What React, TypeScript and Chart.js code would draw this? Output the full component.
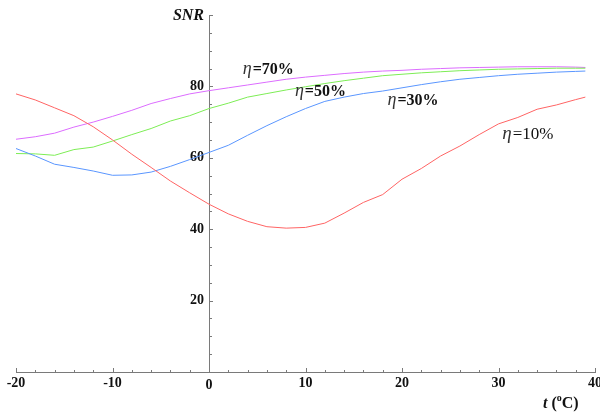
import React, { useEffect, useRef } from "react";
import { Chart, registerables } from "chart.js";

Chart.register(...registerables);

const temps = [-20, -18, -16, -14, -12, -10, -8, -6, -4, -2, 0, 2, 4, 6, 8, 10, 12, 14, 16, 18, 20, 22, 24, 26, 28, 30, 32, 34, 36, 38, 39];

const eta10 = [77.9, 76.2, 74, 71.8, 68.7, 65, 61, 57.3, 53.5, 50.2, 47, 44.3, 42.2, 40.7, 40.3, 40.5, 41.7, 44.5, 47.5, 49.7, 54, 57, 60.5, 63.3, 66.5, 69.5, 71.3, 73.6, 74.8, 76.3, 77];
const eta30 = [62.6, 60.5, 58.2, 57.3, 56.3, 55.1, 55.2, 56, 57.6, 59.5, 61.5, 63.5, 66.3, 69, 71.5, 73.8, 75.8, 77, 78, 78.7, 79.6, 80.5, 81.3, 82, 82.5, 83, 83.4, 83.7, 84, 84.2, 84.3];
const eta50 = [61.2, 61.1, 60.7, 62.3, 63, 64.7, 66.5, 68.2, 70.3, 71.8, 73.8, 75.3, 77, 78, 79, 79.9, 80.8, 81.6, 82.3, 83, 83.4, 83.8, 84.1, 84.4, 84.6, 84.8, 84.9, 85, 85.1, 85.1, 85.1];
const eta70 = [65.2, 65.9, 66.9, 68.6, 70, 71.6, 73.3, 75.2, 76.6, 77.9, 78.8, 79.6, 80.4, 81.2, 82, 82.6, 83.1, 83.6, 84, 84.3, 84.5, 84.8, 85, 85.2, 85.3, 85.4, 85.5, 85.5, 85.5, 85.4, 85.3];

const xTickLabels = [-20, -10, 0, 10, 20, 30, 40];
const yTickLabels = [20, 40, 60, 80];
const seriesNames = ["η=10%", "η=30%", "η=50%", "η=70%"];

const toPoints = (vals: number[]) => vals.map((v, i) => ({ x: temps[i], y: v }));

const SERIF = "'Liberation Serif', 'Times New Roman', serif";

const axesPlugin = {
  id: "customAxes",
  beforeDatasetsDraw(chart: any) {
    const { ctx, scales } = chart;
    const xs = scales.x;
    const ys = scales.y;
    const y0 = Math.round(ys.getPixelForValue(0));
    const x0 = Math.round(xs.getPixelForValue(0));
    ctx.save();
    ctx.strokeStyle = "#7a7a7a";
    ctx.lineWidth = 1;
    // x axis
    ctx.beginPath();
    ctx.moveTo(xs.getPixelForValue(-20), y0 + 0.5);
    ctx.lineTo(xs.getPixelForValue(40) + 1, y0 + 0.5);
    ctx.stroke();
    for (let t = -20; t <= 40; t += 2) {
      const px = Math.round(xs.getPixelForValue(t)) + 0.5;
      const len = t % 10 === 0 ? 4 : 2;
      ctx.beginPath();
      ctx.moveTo(px, y0);
      ctx.lineTo(px, y0 - len);
      ctx.stroke();
    }
    // y axis
    ctx.beginPath();
    ctx.moveTo(x0 + 0.5, y0);
    ctx.lineTo(x0 + 0.5, ys.getPixelForValue(100));
    ctx.stroke();
    for (let v = 5; v <= 100; v += 5) {
      const py = Math.round(ys.getPixelForValue(v)) + 0.5;
      const len = v % 20 === 0 ? 4 : 3;
      ctx.beginPath();
      ctx.moveTo(x0, py);
      ctx.lineTo(x0 + len, py);
      ctx.stroke();
    }
    // tick labels
    ctx.fillStyle = "#111";
    ctx.font = `bold 14px ${SERIF}`;
    ctx.textAlign = "center";
    ctx.textBaseline = "alphabetic";
    xTickLabels.forEach((t) => {
      const px = xs.getPixelForValue(t);
      ctx.fillText(String(t), px, y0 + (t === 0 ? 17 : 15));
    });
    ctx.textAlign = "right";
    ctx.textBaseline = "middle";
    yTickLabels.forEach((v) => {
      ctx.fillText(String(v), x0 - 5, ys.getPixelForValue(v));
    });
    ctx.restore();
  },
  afterDatasetsDraw(chart: any) {
    const { ctx, scales } = chart;
    const xs = scales.x;
    const ys = scales.y;
    ctx.save();
    ctx.fillStyle = "#111";
    ctx.textBaseline = "alphabetic";
    ctx.textAlign = "left";

    const drawEta = (name: string, t: number, v: number, bold: boolean, size: number) => {
      let x = xs.getPixelForValue(t);
      const y = ys.getPixelForValue(v);
      ctx.font = `italic ${size + 2}px ${SERIF}`;
      ctx.fillStyle = "#333";
      const eta = name.charAt(0);
      ctx.fillText(eta, x, y);
      x += ctx.measureText(eta).width + 1;
      ctx.font = `${bold ? "bold " : ""}${size}px ${SERIF}`;
      ctx.fillStyle = "#111";
      ctx.fillText(name.slice(1), x, y);
    };
    drawEta(seriesNames[3], 3.5, 83.4, true, 16);
    drawEta(seriesNames[2], 8.9, 77.4, true, 16);
    drawEta(seriesNames[1], 18.5, 74.8, true, 16);
    drawEta(seriesNames[0], 30.4, 65.4, false, 17);

    // axis titles
    const x0 = xs.getPixelForValue(0);
    ctx.font = `bold italic 16px ${SERIF}`;
    ctx.textAlign = "right";
    ctx.fillText("SNR", x0 - 5, 20);

    ctx.textAlign = "left";
    let tx = 543;
    const ty = 408;
    ctx.font = `bold italic 16px ${SERIF}`;
    ctx.fillText("t", tx, ty);
    tx += ctx.measureText("t").width + 4;
    ctx.font = `bold 16px ${SERIF}`;
    ctx.fillText("(", tx, ty);
    tx += ctx.measureText("(").width;
    ctx.font = `bold 10px ${SERIF}`;
    ctx.fillText("o", tx, ty - 7);
    tx += ctx.measureText("o").width;
    ctx.font = `bold 16px ${SERIF}`;
    ctx.fillText("C)", tx, ty);
    ctx.restore();
  },
};

export default function App() {
  const canvasRef = useRef<HTMLCanvasElement | null>(null);

  useEffect(() => {
    if (!canvasRef.current) return;
    const lineDs = (label: string, vals: number[], color: string) => ({
      label,
      data: toPoints(vals),
      borderColor: color,
      backgroundColor: color,
      borderWidth: 1,
      pointRadius: 0,
      tension: 0,
      fill: false,
    });
    const chart = new Chart(canvasRef.current, {
      type: "line",
      data: {
        datasets: [
          lineDs(seriesNames[0], eta10, "#ff6464"),
          lineDs(seriesNames[1], eta30, "#5a96ff"),
          lineDs(seriesNames[2], eta50, "#7ded55"),
          lineDs(seriesNames[3], eta70, "#dc6cff"),
        ],
      },
      options: {
        responsive: false,
        animation: false,
        layout: { padding: { left: 16, right: 5, top: 15, bottom: 41 } },
        plugins: { legend: { display: false }, tooltip: { enabled: false } },
        scales: {
          x: { type: "linear", min: -20, max: 40, display: false },
          y: { type: "linear", min: 0, max: 100, display: false },
        },
      },
      plugins: [axesPlugin],
    } as any);
    return () => chart.destroy();
  }, []);

  return (
    <div style={{ position: "absolute", left: 0, top: 0, width: 600, height: 413, background: "#fff" }}>
      <canvas ref={canvasRef} width={600} height={413} />
    </div>
  );
}
